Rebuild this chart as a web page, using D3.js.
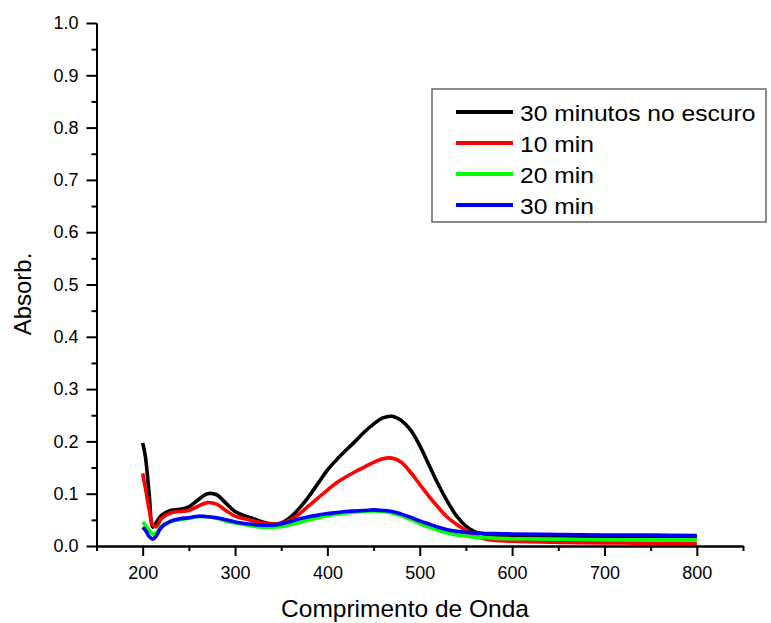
<!DOCTYPE html>
<html>
<head>
<meta charset="utf-8">
<script src="https://cdn.jsdelivr.net/npm/d3@7"></script>
<style>
  html, body { margin: 0; padding: 0; background: #fff; }
  svg { display: block; font-family: "Liberation Sans", Arial, sans-serif; }
</style>
</head>
<body>
<svg id="chart" width="771" height="623"></svg>
<script>
// ---- data ----
const wavelengths = [200,203,207,211,215,220,230,240,250,260,270,280,290,300,310,320,330,340,350,360,370,380,390,400,410,420,430,440,450,460,470,480,490,500,510,520,530,540,550,560,570,580,600,650,700,750,800];
const darkValues = [0.197,0.170,0.100,0.036,0.046,0.058,0.068,0.070,0.075,0.088,0.100,0.098,0.082,0.066,0.058,0.052,0.046,0.042,0.044,0.055,0.073,0.095,0.120,0.145,0.165,0.183,0.200,0.218,0.233,0.245,0.248,0.240,0.222,0.192,0.155,0.118,0.085,0.057,0.038,0.027,0.023,0.021,0.020,0.019,0.018,0.017,0.017];
const min10Values = [0.139,0.110,0.070,0.040,0.037,0.052,0.063,0.066,0.068,0.076,0.083,0.080,0.068,0.057,0.052,0.048,0.044,0.042,0.043,0.050,0.062,0.077,0.092,0.107,0.121,0.132,0.142,0.151,0.160,0.167,0.168,0.160,0.141,0.118,0.095,0.074,0.055,0.041,0.030,0.020,0.014,0.011,0.009,0.007,0.006,0.005,0.005];
const min20Values = [0.046,0.040,0.030,0.023,0.026,0.038,0.047,0.050,0.053,0.056,0.056,0.053,0.048,0.044,0.041,0.038,0.036,0.036,0.037,0.041,0.045,0.050,0.054,0.058,0.061,0.063,0.065,0.066,0.067,0.066,0.063,0.058,0.051,0.043,0.036,0.030,0.025,0.021,0.019,0.017,0.016,0.015,0.014,0.013,0.012,0.012,0.012];
const min30Values = [0.036,0.030,0.018,0.013,0.020,0.035,0.047,0.052,0.054,0.057,0.056,0.054,0.050,0.046,0.043,0.041,0.040,0.040,0.042,0.047,0.052,0.056,0.059,0.062,0.064,0.066,0.067,0.068,0.069,0.068,0.066,0.061,0.055,0.048,0.042,0.036,0.031,0.028,0.026,0.025,0.024,0.024,0.023,0.022,0.021,0.021,0.020];
const seriesNames = ["30 minutos no escuro","10 min","20 min","30 min"];
const seriesColors = ["#000000","#ff0000","#00ff00","#0000ff"];
const xMajorTicks = [200,300,400,500,600,700,800];
const xMinorTicks = [150,250,350,450,550,650,750,850];
const yMajorTicks = [0.0,0.1,0.2,0.3,0.4,0.5,0.6,0.7,0.8,0.9,1.0];
const yMinorTicks = [0.05,0.15,0.25,0.35,0.45,0.55,0.65,0.75,0.85,0.95];
const xTitle = "Comprimento de Onda";
const yTitle = "Absorb.";

const seriesValues = [darkValues, min10Values, min20Values, min30Values];
const series = seriesNames.map((name, i) => ({
  name, color: seriesColors[i],
  points: wavelengths.map((w, j) => ({x: w, y: seriesValues[i][j]}))
}));

const svg = d3.select("#chart");
const x = d3.scaleLinear().domain([150, 850]).range([96.5, 743]);
const y = d3.scaleLinear().domain([0, 1]).range([546, 23]);

// ---- lines ----
const line = d3.line().x(d => x(d.x)).y(d => y(d.y)).curve(d3.curveCatmullRom.alpha(0.5));
svg.append("g").selectAll("path").data(series).join("path")
  .attr("d", d => line(d.points))
  .attr("fill", "none")
  .attr("stroke", d => d.color)
  .attr("stroke-width", 3.6)
  .attr("stroke-linejoin", "round")
  .attr("stroke-linecap", "butt");

// ---- axes ----
function styleAxis(g) {
  g.selectAll(".domain").attr("stroke", "#000").attr("stroke-width", 2);
  g.selectAll(".tick line").attr("stroke", "#000").attr("stroke-width", 2);
  g.selectAll(".tick text").attr("fill", "#000").style("font-size", "18px")
    .style("font-family", "'Liberation Sans', Arial, sans-serif");
}
const yAxisMajor = svg.append("g").attr("transform", "translate(96.5,0)")
  .call(d3.axisLeft(y).tickValues(yMajorTicks).tickSize(10).tickSizeOuter(0).tickPadding(8).tickFormat(d3.format(".1f")));
styleAxis(yAxisMajor);
const yAxisMinor = svg.append("g").attr("transform", "translate(96.5,0)")
  .call(d3.axisLeft(y).tickValues(yMinorTicks).tickSize(5).tickSizeOuter(0).tickFormat(""));
styleAxis(yAxisMinor);

const xAxisMajor = svg.append("g").attr("transform", "translate(0,546)")
  .call(d3.axisBottom(x).tickValues(xMajorTicks).tickSize(10).tickSizeOuter(0).tickPadding(10).tickFormat(d3.format("d")));
styleAxis(xAxisMajor);
const xAxisMinor = svg.append("g").attr("transform", "translate(0,546)")
  .call(d3.axisBottom(x).tickValues(xMinorTicks).tickSize(5).tickSizeOuter(0).tickFormat(""));
styleAxis(xAxisMinor);

// ---- titles ----
svg.append("text")
  .attr("x", 405).attr("y", 617)
  .attr("text-anchor", "middle")
  .style("font-size", "24.5px").attr("fill", "#000")
  .text(xTitle);
svg.append("text")
  .attr("transform", "translate(31,294) rotate(-90)")
  .attr("text-anchor", "middle")
  .style("font-size", "24px").attr("fill", "#000")
  .text(yTitle);

// ---- legend ----
const legend = svg.append("g");
legend.append("rect")
  .attr("x", 432).attr("y", 89).attr("width", 334).attr("height", 133)
  .attr("fill", "#fff").attr("stroke", "#666").attr("stroke-width", 1.5);
const rowY = i => 112 + i * 31;
legend.selectAll("line.key").data(series).join("line")
  .attr("class", "key")
  .attr("x1", 456).attr("x2", 513)
  .attr("y1", (d, i) => rowY(i)).attr("y2", (d, i) => rowY(i))
  .attr("stroke", d => d.color).attr("stroke-width", 4);
legend.selectAll("text.key").data(series).join("text")
  .attr("class", "key")
  .attr("transform", (d, i) => `translate(520,${rowY(i) + 8.5}) scale(1.12,1)`)
  .style("font-size", "22px").attr("fill", "#000")
  .text(d => d.name);
</script>
</body>
</html>
